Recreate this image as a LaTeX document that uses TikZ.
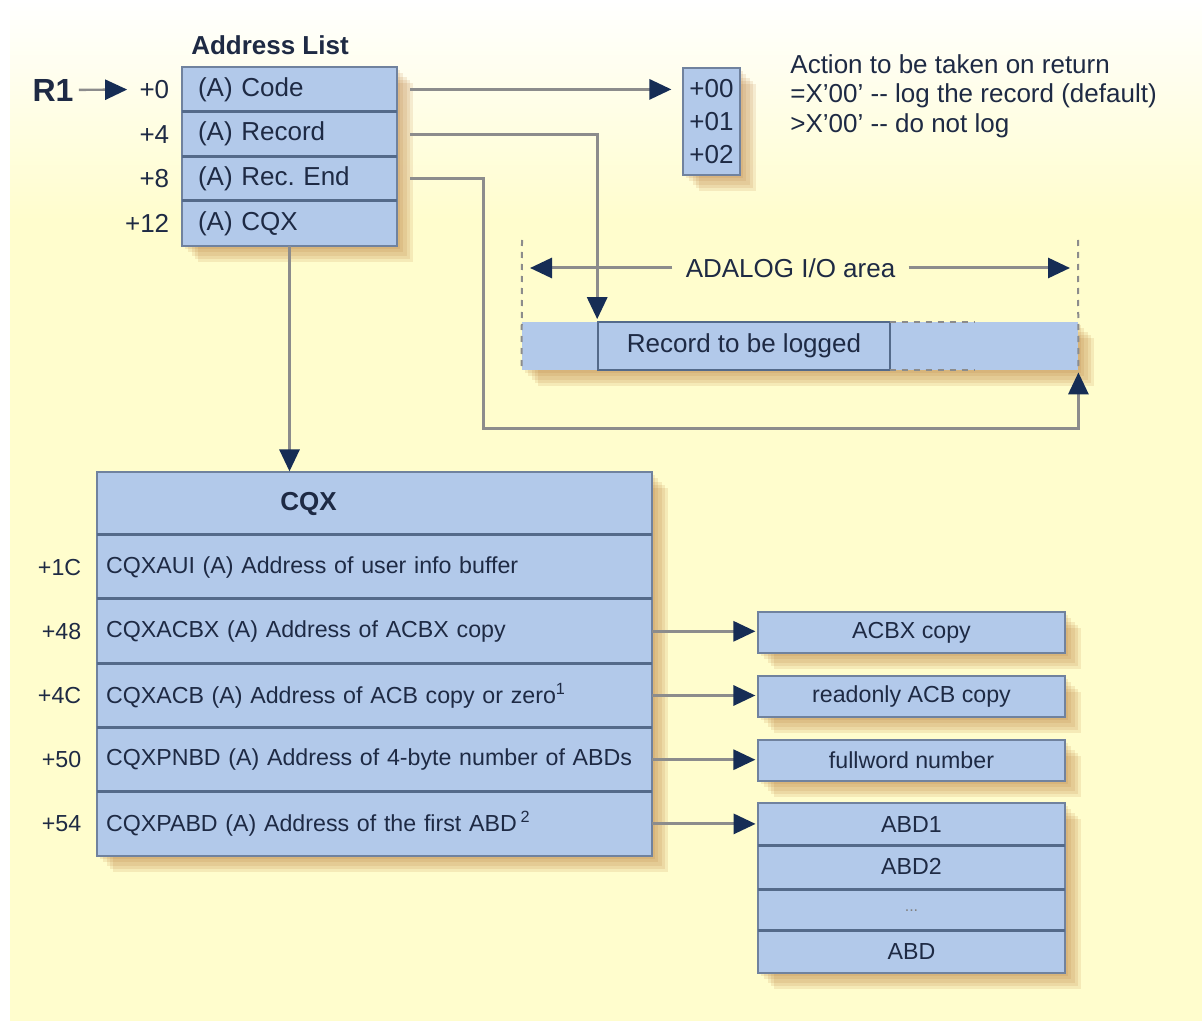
\documentclass[tikz,border=0pt]{standalone}
\usepackage{fontspec}
\setmainfont{Liberation Sans}
\usetikzlibrary{arrows.meta,shadows}
\definecolor{paper}{RGB}{255,253,205}
\definecolor{cellblue}{RGB}{178,201,234}
\definecolor{cellline}{RGB}{112,130,158}
\definecolor{rowline}{RGB}{84,106,138}
\definecolor{wire}{RGB}{140,140,140}
\definecolor{tipblue}{RGB}{22,45,85}
\definecolor{ink}{RGB}{30,42,68}
\definecolor{tanshadow}{RGB}{185,120,55}

\begin{document}
\frenchspacing
\begin{tikzpicture}[x=0.5pt,y=-0.5pt]
\tikzstyle{big}=[font=\fontsize{13}{16}\selectfont];
\tikzstyle{small}=[font=\fontsize{11.6}{14}\selectfont];
\tikzstyle{bold}=[font=\fontsize{13}{16}\selectfont\bfseries];
\tikzstyle{txt}=[text=ink,inner sep=0pt];
\tikzstyle{soft}=[general shadow={fill=tanshadow,opacity=.14,shadow xshift=1.6pt,shadow yshift=-1.6pt},
  general shadow={fill=tanshadow,opacity=.14,shadow xshift=3.2pt,shadow yshift=-3.2pt},
  general shadow={fill=tanshadow,opacity=.14,shadow xshift=4.8pt,shadow yshift=-4.8pt},
  general shadow={fill=tanshadow,opacity=.14,shadow xshift=6.4pt,shadow yshift=-6.4pt},
  general shadow={fill=tanshadow,opacity=.14,shadow xshift=8pt,shadow yshift=-8pt}];
\tikzstyle{frame}=[fill=cellblue,draw=cellline,line width=0.6pt,soft,inner sep=0pt];
\tikzstyle{row}=[text=ink,inner ysep=0pt,align=left];
\tikzstyle{sep}=[draw=rowline,line width=1.5pt];
\tikzstyle{offs}=[text=ink,inner sep=0pt,anchor=east];
\tikzstyle{link}=[wire,line width=1.5pt,-{Triangle[length=11pt,width=10pt,color=tipblue]}];
\tikzstyle{guide}=[wire,line width=1pt,dash pattern=on 3pt off 3pt];
\tikzstyle{tgt}=[frame,small,text=ink,minimum width=153.5pt,minimum height=20.5pt];

\fill[white] (0,0) rectangle (1202,1021);
\shade[top color=white,bottom color=paper] (10,0) rectangle (1202,220);
\fill[paper] (10,220) rectangle (1202,1021);
\useasboundingbox (0,0) rectangle (1202,1021);

\node[txt,bold] (altitle) at (270,45) {Address List};
\node[frame,minimum width=107.5pt,minimum height=89.5pt] (al) at (289.5,156.5) {};
\node[row,big,minimum width=107.5pt,minimum height=22.4pt,inner xsep=8pt,text width=91.5pt] (al0) at (289.5,89.4) {(A) Code};
\node[row,big,minimum width=107.5pt,minimum height=22.4pt,inner xsep=8pt,text width=91.5pt] (al1) at (289.5,134.1) {(A) Record};
\node[row,big,minimum width=107.5pt,minimum height=22.4pt,inner xsep=8pt,text width=91.5pt] (al2) at (289.5,178.9) {(A) Rec. End};
\node[row,big,minimum width=107.5pt,minimum height=22.4pt,inner xsep=8pt,text width=91.5pt] (al3) at (289.5,223.6) {(A) CQX};
\foreach \r in {al1,al2,al3}
  \draw[sep] (\r.north west) -- (\r.north east);
\node[offs,big,xshift=-6pt] (o0) at (al0.west) {+0};
\node[offs,big,xshift=-6pt] (o4) at (al1.west) {+4};
\node[offs,big,xshift=-6pt] (o8) at (al2.west) {+8};
\node[offs,big,xshift=-6pt] (o12) at (al3.west) {+12};
\node[txt,font=\fontsize{16}{18}\selectfont\bfseries] (r1) at (53,90) {R1};
\draw[link,line width=1.2pt,shorten <=2.5pt,shorten >=6pt] (r1) -- (o0);

\node[frame,text=ink,align=center,font=\fontsize{13}{16.5}\selectfont,minimum width=28.5pt,minimum height=53.5pt] (rc) at (711.5,121.5) {+00\\+01\\+02};
\draw[link,shorten <=6.5pt,shorten >=5.5pt] (al0.east) -- (al0.east -| rc.west);
\node[txt,align=left,anchor=north west,font=\fontsize{13}{14.75}\selectfont] (act) at (790,54) {Action to be taken on return\\=X'00' -{}- log the record (default)\\>X'00' -{}- do not log};

\coordinate (ioL) at (522,240);
\coordinate (ioR) at (1078,240);
\node[txt,big,inner xsep=6.5pt] (ioarea) at (790.5,268) {ADALOG I/O area};
\draw[link,shorten >=4pt] (ioarea.west) -- (ioarea.west -| ioL);
\draw[link,shorten >=4pt] (ioarea.east) -- (ioarea.east -| ioR);
\node[frame,draw=none,minimum width=278pt,minimum height=24pt] (io) at (800,346) {};
\node[inner sep=0pt,minimum width=38pt,minimum height=24pt] (iosl) at (560,346) {};
\node[big,text=ink,draw=rowline,line width=0.8pt,inner sep=0pt,minimum width=146pt,minimum height=24pt] (iorec) at (744,346) {Record to be logged};
\node[inner sep=0pt,minimum width=94pt,minimum height=24pt] (iosp) at (984,346) {};
\draw[guide] (ioL) -- (iosl.south west);
\draw[guide] (ioR) -- (iosp.south east);
\draw[guide] (iosp.north west) -- +(85,0) (iosp.south west) -- +(85,0);
\draw[link,shorten <=6.5pt,shorten >=1pt] (al1.east) -| (iorec.north west);
\coordinate (loop) at (483,428);
\draw[link,shorten <=6.5pt,shorten >=1pt] (al2.east) -| (loop) -| (iosp.south east);

\node[frame,minimum width=277.5pt,minimum height=192pt] (cqx) at (374.5,664) {};
\draw[link] (al3.south) -- (al3.south |- cqx.north);
\node[txt,bold] (cqxt) at (308.5,503.5) {CQX};
\node[row,small,minimum width=277.5pt,minimum height=32.1pt,inner xsep=4.5pt,text width=268.5pt] (cq1c) at (374.5,567.1) {CQXAUI (A) Address of user info buffer};
\node[row,small,minimum width=277.5pt,minimum height=32.1pt,inner xsep=4.5pt,text width=268.5pt] (cq48) at (374.5,631.3) {CQXACBX (A) Address of ACBX copy};
\node[row,small,minimum width=277.5pt,minimum height=32.1pt,inner xsep=4.5pt,text width=268.5pt] (cq4c) at (374.5,695.5) {CQXACB (A) Address of ACB copy or zero\textsuperscript{1}};
\node[row,small,minimum width=277.5pt,minimum height=32.1pt,inner xsep=4.5pt,text width=268.5pt] (cq50) at (374.5,759.7) {CQXPNBD (A) Address of 4-byte number of ABDs};
\node[row,small,minimum width=277.5pt,minimum height=32.1pt,inner xsep=4.5pt,text width=268.5pt] (cq54) at (374.5,823.9) {CQXPABD (A) Address of the first ABD\,\textsuperscript{2}};
\foreach \r in {cq1c,cq48,cq4c,cq50,cq54}
  \draw[sep] (\r.north west) -- (\r.north east);
\node[offs,small,xshift=-7.5pt] (q1c) at (cq1c.west) {+1C};
\node[offs,small,xshift=-7.5pt] (q48) at (cq48.west) {+48};
\node[offs,small,xshift=-7.5pt] (q4c) at (cq4c.west) {+4C};
\node[offs,small,xshift=-7.5pt] (q50) at (cq50.west) {+50};
\node[offs,small,xshift=-7.5pt] (q54) at (cq54.west) {+54};

\node[tgt] (acbx) at (911.5,632.5) {ACBX copy};
\node[tgt] (acb) at (911.5,696.5) {readonly ACB copy};
\node[tgt] (pnbd) at (911.5,760.5) {fullword number};
\node[frame,minimum width=153.5pt,minimum height=85pt] (abd) at (911.5,888) {};
\node[small,text=ink,minimum width=153.5pt,minimum height=21.25pt,inner sep=0pt] (abd1) at (911.5,824.25) {ABD1};
\node[small,text=ink,minimum width=153.5pt,minimum height=21.25pt,inner sep=0pt] (abd2) at (911.5,866.75) {ABD2};
\node[text=gray,font=\fontsize{8}{8}\selectfont,minimum width=153.5pt,minimum height=21.25pt,inner sep=0pt] (abdx) at (911.5,911) {...};
\node[small,text=ink,minimum width=153.5pt,minimum height=21.25pt,inner sep=0pt] (abdn) at (911.5,951.75) {ABD};
\foreach \r in {abd2,abdx,abdn}
  \draw[sep] (\r.north west) -- (\r.north east);

\draw[link,shorten >=1pt] (cq48.east) -- (cq48.east -| acbx.west);
\draw[link,shorten >=1pt] (cq4c.east) -- (cq4c.east -| acb.west);
\draw[link,shorten >=1pt] (cq50.east) -- (cq50.east -| pnbd.west);
\draw[link,shorten >=1pt] (cq54.east) -- (cq54.east -| abd1.west);
\end{tikzpicture}
\end{document}
